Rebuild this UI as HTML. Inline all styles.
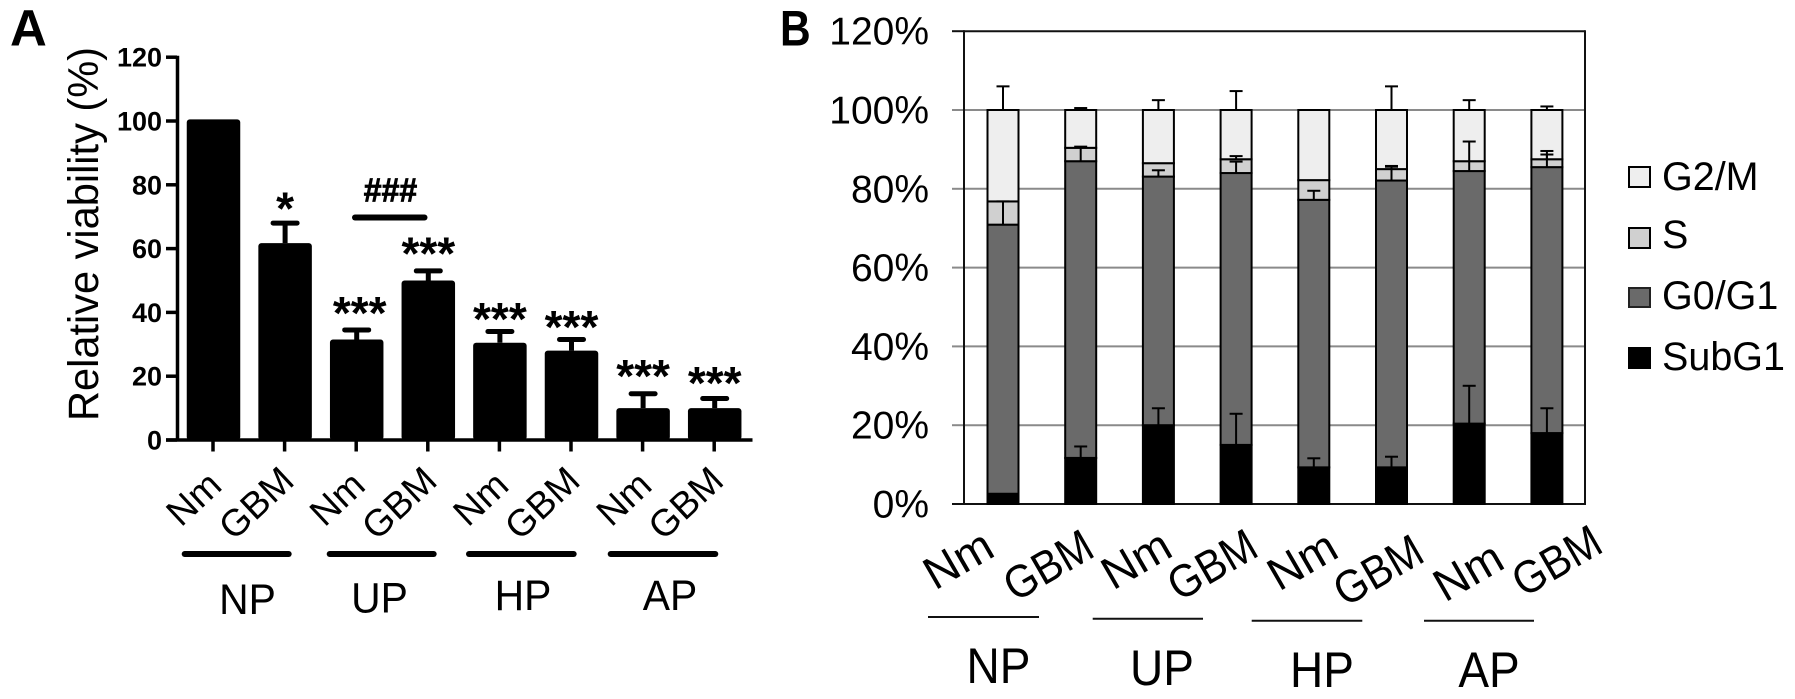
<!DOCTYPE html>
<html lang="en">
<head>
<meta charset="utf-8">
<title>Relative viability and cell cycle distribution</title>
<style>
  html, body { margin: 0; padding: 0; background: #fff; }
  svg { display: block; }
  text { font-family: "Liberation Sans", "DejaVu Sans", sans-serif; fill: #000; }
</style>
</head>
<body>
<svg id="figure" xmlns="http://www.w3.org/2000/svg" width="1795" height="699" viewBox="0 0 1795 699">
  <rect x="0" y="0" width="1795" height="699" fill="#fff"/>

  <!-- Panel A static text -->
  <g id="panel-a">
    <text x="10" y="45.7" font-size="51" font-weight="700">A</text>
    <text transform="translate(98,421) rotate(-90)" font-size="43" textLength="374" lengthAdjust="spacingAndGlyphs">Relative viability (%)</text>

    <text transform="translate(390.5,201.5) scale(0.97,1)" font-size="33" font-weight="700" text-anchor="middle" stroke="#000" stroke-width="0.8">###</text>
    <rect x="352" y="214.5" width="75.5" height="6" rx="3" fill="#000"/>

    <g font-size="37.5">
      <text transform="translate(193.5,498.5) rotate(-43)" y="13" text-anchor="middle">Nm</text>
      <text transform="translate(256,503) rotate(-43)" y="13" text-anchor="middle">GBM</text>
      <text transform="translate(337,498.5) rotate(-43)" y="13" text-anchor="middle">Nm</text>
      <text transform="translate(399,503) rotate(-43)" y="13" text-anchor="middle">GBM</text>
      <text transform="translate(480.5,498.5) rotate(-43)" y="13" text-anchor="middle">Nm</text>
      <text transform="translate(542,503) rotate(-43)" y="13" text-anchor="middle">GBM</text>
      <text transform="translate(623.7,498.5) rotate(-43)" y="13" text-anchor="middle">Nm</text>
      <text transform="translate(685.5,503) rotate(-43)" y="13" text-anchor="middle">GBM</text>
    </g>

    <g fill="#000">
      <rect x="181.7" y="551" width="110" height="6" rx="3"/>
      <rect x="326.7" y="551" width="110" height="6" rx="3"/>
      <rect x="466" y="551" width="110.7" height="6" rx="3"/>
      <rect x="607.7" y="551" width="110.6" height="6" rx="3"/>
    </g>
    <g font-size="43" text-anchor="middle">
      <text transform="translate(247.5,614) scale(0.95,1)">NP</text>
      <text transform="translate(379.5,612.5) scale(0.95,1)">UP</text>
      <text transform="translate(523,610) scale(0.95,1)">HP</text>
      <text transform="translate(670,610) scale(0.95,1)">AP</text>
    </g>
  </g>

  <!-- Panel B static text -->
  <g id="panel-b">
    <text transform="translate(780,45.7) scale(0.85,1)" font-size="50" font-weight="700">B</text>

    <g font-size="46">
      <text transform="translate(958,559) rotate(-30)" y="16" text-anchor="middle">Nm</text>
      <text transform="translate(1048,565) rotate(-30) scale(0.9,1)" y="16" text-anchor="middle">GBM</text>
      <text transform="translate(1136,559) rotate(-30)" y="16" text-anchor="middle">Nm</text>
      <text transform="translate(1212,564.5) rotate(-30) scale(0.9,1)" y="16" text-anchor="middle">GBM</text>
      <text transform="translate(1302,560) rotate(-30)" y="16" text-anchor="middle">Nm</text>
      <text transform="translate(1378,570) rotate(-30) scale(0.9,1)" y="16" text-anchor="middle">GBM</text>
      <text transform="translate(1468,571) rotate(-30)" y="16" text-anchor="middle">Nm</text>
      <text transform="translate(1556.5,560.5) rotate(-30) scale(0.9,1)" y="16" text-anchor="middle">GBM</text>
    </g>

    <g stroke="#111" stroke-width="2">
      <line x1="928" y1="617" x2="1039" y2="617"/>
      <line x1="1092.7" y1="618.7" x2="1203" y2="618.7"/>
      <line x1="1251.7" y1="620.7" x2="1362.3" y2="620.7"/>
      <line x1="1424" y1="620.7" x2="1534" y2="620.7"/>
    </g>
    <g font-size="50" text-anchor="middle">
      <text transform="translate(998.5,683) scale(0.92,1)">NP</text>
      <text transform="translate(1162,685) scale(0.92,1)">UP</text>
      <text transform="translate(1322,687) scale(0.92,1)">HP</text>
      <text transform="translate(1489,687) scale(0.92,1)">AP</text>
    </g>

    <g>
      <g>
        <rect x="1629" y="167" width="21" height="20" fill="#eeeeee" stroke="#000" stroke-width="2"/>
        <text x="1662" y="190" font-size="39.5">G2/M</text>
      </g>
      <g>
        <rect x="1629" y="228" width="21" height="20" fill="#d0d0d0" stroke="#000" stroke-width="2"/>
        <text x="1662" y="248" font-size="39.5">S</text>
      </g>
      <g>
        <rect x="1629" y="288" width="21" height="19" fill="#6a6a6a" stroke="#222" stroke-width="2"/>
        <text x="1662" y="309" font-size="39.5">G0/G1</text>
      </g>
      <g>
        <rect x="1629" y="348" width="21" height="20" fill="#000" stroke="#000" stroke-width="2"/>
        <text x="1662" y="370" font-size="39.5">SubG1</text>
      </g>
    </g>
  </g>
</svg>

<script>
// ---- Panel A data ----
const viabilityTicks = [0, 20, 40, 60, 80, 100, 120];
const viabilityValues = [100.5, 61.7, 31.5, 50, 30.5, 28, 10, 10];
const viabilityErrors = [0, 6.3, 3, 3, 3.5, 3.5, 4.5, 3];
const viabilityStars = ['', '*', '***', '***', '***', '***', '***', '***'];
const viabilityStarLevels = [0, 74.4, 41.7, 60.4, 39.8, 37.3, 21.9, 19.7];

// ---- Panel B data ----
const cycleTicks = [0, 20, 40, 60, 80, 100, 120];
const subG1Values = [2.6, 11.7, 20, 15, 9.3, 9.3, 20.4, 18];
const g0g1Values = [68.3, 75.3, 63.1, 69, 67.9, 72.8, 64.1, 67.5];
const sValues = [5.9, 3.4, 3.4, 3.5, 5, 2.9, 2.5, 2];
const g2mValues = [23.2, 9.6, 13.5, 12.5, 17.8, 15, 13, 12.5];
const subG1Errors = [0, 2.9, 4.3, 7.9, 2.3, 2.7, 9.6, 6.3];
const g0g1Errors = [5.9, 3.7, 1.6, 2.9, 2.3, 3.5, 7.5, 3.2];
const sErrors = [0, 0, 0, 0.8, 0, 0.8, 0, 2.1];
const g2mErrors = [6, 0.5, 2.5, 4.8, 0, 6, 2.5, 0.9];

const NS = 'http://www.w3.org/2000/svg';
function make(tag, attrs, parent) {
  const node = document.createElementNS(NS, tag);
  for (const key in attrs) node.setAttribute(key, attrs[key]);
  parent.appendChild(node);
  return node;
}

// ---- Panel A axes ----
const panelA = document.getElementById('panel-a');
const yA = v => 440 - v * 3.19;
const xA = i => 213.5 + i * 71.6;
const barWidthA = 53.5;

viabilityValues.forEach((value, i) => {
  const bar = make('rect', { x: xA(i) - barWidthA / 2, y: yA(value), width: barWidthA, height: yA(0) - yA(value), rx: 3, fill: '#000' }, panelA);
  
  

  const top = value + viabilityErrors[i];
  if (viabilityErrors[i] > 0) {
    const stem = make('line', { x1: xA(i), x2: xA(i), y1: yA(value), y2: yA(top), stroke: '#000', 'stroke-width': 5 }, panelA);
    
    
    const cap = make('rect', { x: xA(i) - 14.5, y: yA(top) - 2.5, width: 29, height: 5, rx: 2.5, fill: '#000' }, panelA);
    
    
  }

  if (viabilityStars[i]) {
    const star = make('text', { x: xA(i) + (i === 2 ? 3 : 0), y: yA(viabilityStarLevels[i]) + 22, 'font-size': 46, 'font-weight': 700, 'text-anchor': 'middle' }, panelA);
    star.textContent = viabilityStars[i];
    
    
  }

  const tick = make('line', { x1: xA(i) - 0.5, x2: xA(i) - 0.5, y1: yA(0), y2: 451.5, stroke: '#000', 'stroke-width': 3.5 }, panelA);
  
  
});

const yAxisA = make('line', { x1: 177.5, x2: 177.5, y1: yA(120) - 1.5, y2: yA(0) + 1.5, stroke: '#000', 'stroke-width': 3.5 }, panelA);



const xAxisA = make('line', { x1: 166, x2: 752.5, y1: yA(0), y2: yA(0), stroke: '#000', 'stroke-width': 3.5 }, panelA);



viabilityTicks.forEach(tickValue => {
  const tick = make('line', { x1: 166, x2: 177, y1: yA(tickValue), y2: yA(tickValue), stroke: '#000', 'stroke-width': 3.5 }, panelA);
  
  
  const label = make('text', { x: 162, y: yA(tickValue) + 9.5, 'font-size': 27, 'font-weight': 700, 'text-anchor': 'end' }, panelA);
  label.textContent = tickValue;
  
  
});

// ---- Panel B axes ----
const panelB = document.getElementById('panel-b');
const yB = v => 504 - v * 3.94;
const xB = i => 1003 + i * 77.7;
const barWidthB = 31;
const plotLeft = 964;
const plotRight = 1585;

cycleTicks.forEach(tickValue => {
  const isEdge = tickValue === 0 || tickValue === 120;
  const grid = make('line', { x1: plotLeft, x2: plotRight, y1: yB(tickValue), y2: yB(tickValue), stroke: isEdge ? '#111' : '#8a8a8a', 'stroke-width': 2 }, panelB);
  
  
  const tick = make('line', { x1: 952, x2: plotLeft, y1: yB(tickValue), y2: yB(tickValue), stroke: isEdge ? '#111' : '#8a8a8a', 'stroke-width': 2 }, panelB);
  
  
  const label = make('text', { x: 929, y: yB(tickValue) + 13.5, 'font-size': 39, 'text-anchor': 'end' }, panelB);
  label.textContent = tickValue + '%';
  
  
});

const leftAxisB = make('line', { x1: plotLeft, x2: plotLeft, y1: yB(120) - 1, y2: yB(0) + 1, stroke: '#111', 'stroke-width': 2 }, panelB);



const rightAxisB = make('line', { x1: plotRight, x2: plotRight, y1: yB(120) - 1, y2: yB(0) + 1, stroke: '#111', 'stroke-width': 2 }, panelB);



const stackSeries = [
  { values: subG1Values, errors: subG1Errors, fill: '#000000' },
  { values: g0g1Values, errors: g0g1Errors, fill: '#6a6a6a' },
  { values: sValues, errors: sErrors, fill: '#d0d0d0' },
  { values: g2mValues, errors: g2mErrors, fill: '#eeeeee' }
];

subG1Values.forEach((_, i) => {
  let base = 0;
  stackSeries.forEach(series => {
    const top = base + series.values[i];
    const seg = make('rect', { x: xB(i) - barWidthB / 2, y: yB(top), width: barWidthB, height: yB(base) - yB(top), fill: series.fill, stroke: '#000', 'stroke-width': 2 }, panelB);
    
    
    base = top;
  });
  base = 0;
  stackSeries.forEach(series => {
    const top = base + series.values[i];
    const err = series.errors[i];
    if (err > 0) {
      const stem = make('line', { x1: xB(i), x2: xB(i), y1: yB(top), y2: yB(top + err), stroke: '#000', 'stroke-width': 2 }, panelB);
      
      
      const cap = make('line', { x1: xB(i) - 6.5, x2: xB(i) + 6.5, y1: yB(top + err), y2: yB(top + err), stroke: '#000', 'stroke-width': 2 }, panelB);
      
      
    }
    base = top;
  });
});
</script>
</body>
</html>
